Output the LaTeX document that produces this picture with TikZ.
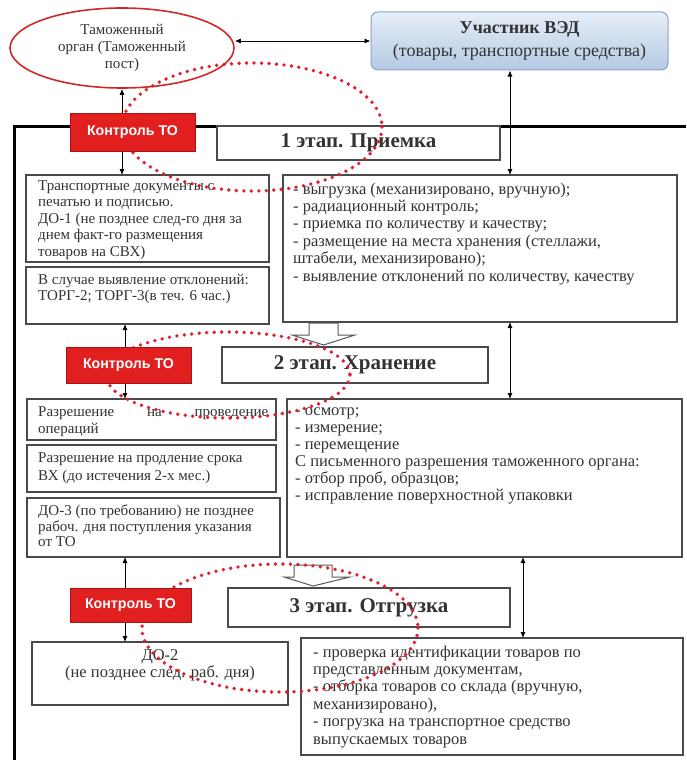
\documentclass[tikz,border=0pt]{standalone}
\usepackage{fontspec}
\setmainfont{Liberation Serif}
\newfontfamily\ksans{Liberation Sans}
\usetikzlibrary{arrows.meta,shapes.geometric}
\definecolor{kred}{HTML}{E21F1F}
\definecolor{kdark}{HTML}{A51515}
\definecolor{dotred}{HTML}{E0202E}
\definecolor{edge}{HTML}{4A4A4A}
\definecolor{vedtop}{HTML}{E6EEF8}
\definecolor{vedbot}{HTML}{B5C9E3}
\definecolor{vededge}{HTML}{8AA2C4}
\definecolor{elred}{HTML}{D02828}
\definecolor{ink}{HTML}{333333}
\pgfdeclarelayer{front}
\pgfsetlayers{main,front}
\begin{document}
\begin{tikzpicture}[x=1pt,y=-1pt, >={Latex[length=6pt,width=5pt]},
  box/.style={draw=edge,line width=1.1pt,fill=white,inner sep=0pt,outer sep=0pt},
  stagebox/.style={box,text=ink,font=\fontsize{21}{23}\selectfont\bfseries},
  ctrl/.style={draw=kdark,line width=1pt,fill=kred,text=white,inner sep=0pt,outer sep=0pt,font=\ksans\bfseries\fontsize{14.2}{16}\selectfont},
  txt/.style={inner sep=0pt,anchor=north west,align=left,text=ink},
  link/.style={line width=0.9pt,black},
  dots/.style={dotred,line width=3.8pt,line cap=round,dash pattern=on 0pt off 7.5pt},
  blockarr/.style={draw=gray!70!black,line width=1pt,fill=white}
]
\useasboundingbox (0,0) rectangle (686,760);
\fill[white] (0,0) rectangle (686,760);

% control nodes on the front layer
\begin{pgfonlayer}{front}
\node[ctrl,minimum width=125,minimum height=38] (k1) at (132.5,132) {Контроль ТО};
\node[ctrl,minimum width=125,minimum height=36] (k2) at (128.5,365) {Контроль ТО};
\node[ctrl,minimum width=121,minimum height=34] (k3) at (130.5,605) {Контроль ТО};
\end{pgfonlayer}

% frame
\draw[line width=3pt] (686,126) -- (14,126) -- (14,760);

% top nodes
\node[draw=elred,line width=1.6pt,fill=white,ellipse,minimum width=224,minimum height=80,inner sep=0pt,align=center,text=ink,font=\fontsize{15}{17}\selectfont] (ell) at (122,48) {Таможенный\\орган (Таможенный\\пост)};
\node[draw=vededge,line width=1pt,rounded corners=7pt,top color=vedtop,bottom color=vedbot,minimum width=297,minimum height=58,inner sep=0pt,align=center,text=ink,font=\fontsize{18}{23}\selectfont] (ved) at (519.5,41) {\textbf{Участник ВЭД}\\(товары, транспортные средства)};

% stage labels
\node[stagebox,minimum width=283,minimum height=34] (s1) at (358.5,143) {1 этап. Приемка};
\node[stagebox,minimum width=266,minimum height=36] (s2) at (355,365) {2 этап. Хранение};
\node[stagebox,minimum width=282,minimum height=39] (s3) at (369,607.5) {3 этап. Отгрузка};

% boxes
\node[box,minimum width=243,minimum height=87] (a) at (147.5,218.5) {};
\node[box,minimum width=243,minimum height=57] (b) at (147.5,295.5) {};
\node[box,minimum width=394,minimum height=147] (r1) at (480,248.5) {};
\node[box,minimum width=249,minimum height=41] (c) at (151.5,419.5) {};
\node[box,minimum width=249,minimum height=47] (d) at (151.5,468.5) {};
\node[box,minimum width=253,minimum height=59] (e) at (153.5,527.5) {};
\node[box,minimum width=395,minimum height=158] (r2) at (484.5,478) {};
\node[box,minimum width=256,minimum height=63] (f) at (160,673.5) {};
\node[box,minimum width=382,minimum height=117] (r3) at (492,696.5) {};

% texts
\node[txt,font=\fontsize{15}{16.5}\selectfont] (ta) at ([shift={(12,5)}]a.north west) {Транспортные документы с\\печатью и подписью.\\ДО-1 (не позднее след-го дня за\\днем факт-го размещения\\товаров на СВХ)};
\node[txt,font=\fontsize{15}{16}\selectfont] (tb) at ([shift={(12,7)}]b.north west) {В случае выявление отклонений:\\ТОРГ-2; ТОРГ-3(в теч. 6 час.)};
\node[txt,font=\fontsize{16.5}{17.4}\selectfont] (tr1) at ([shift={(10,7.5)}]r1.north west) {- выгрузка (механизировано, вручную);\\- радиационный контроль;\\- приемка по количеству и качеству;\\- размещение на места хранения (стеллажи,\\штабели, механизировано);\\- выявление отклонений по количеству, качеству};
\node[txt,font=\fontsize{15}{17}\selectfont] (tc) at ([shift={(11,7)}]c.north west) {\makebox[230pt][s]{Разрешение на проведение}\\операций};
\node[txt,font=\fontsize{15}{18}\selectfont] (td) at ([shift={(11,7)}]d.north west) {Разрешение на продление срока\\ВХ (до истечения 2-х мес.)};
\node[txt,font=\fontsize{15}{15.5}\selectfont] (te) at ([shift={(11,7)}]e.north west) {ДО-3 (по требованию) не позднее\\рабоч. дня поступления указания\\от ТО};
\node[txt,font=\fontsize{16.5}{17}\selectfont] (tr2) at ([shift={(8,8.5)}]r2.north west) {- осмотр;\\- измерение;\\- перемещение\\С письменного разрешения таможенного органа:\\- отбор проб, образцов;\\- исправление поверхностной упаковки};
\node[inner sep=0pt,anchor=north,align=center,text=ink,font=\fontsize{16.5}{16.5}\selectfont] (tf) at (160,649.5) {ДО-2\\(не позднее след. раб. дня)};
\node[txt,font=\fontsize{16.5}{17.4}\selectfont] (tr3) at ([shift={(12,7.5)}]r3.north west) {- проверка идентификации товаров по\\представленным документам,\\- отборка товаров со склада (вручную,\\механизировано),\\- погрузка на транспортное средство\\выпускаемых товаров};

% block arrows between stages
\draw[blockarr] (309,323) -- (338,323) -- (338,335) -- (355,335) -- (323.5,345) -- (292,335) -- (309,335) -- cycle;
\draw[blockarr] (294,565) -- (332,565) -- (332,577) -- (350,577) -- (313,586) -- (284,577) -- (294,577) -- cycle;

% connectors
\coordinate (xr) at (510,0);
\coordinate (xr3) at (523,0);
\coordinate (xk) at (125,0);
\draw[link,<->] (ell.east |- ved.west) -- (ved.west);
\draw[link,<->] (ved.south -| xr) -- (r1.north -| xr);
\draw[link,->] (k1.north -| ell.south) -- (ell.south);
\draw[link,->] (k1.south -| ell.south) -- (a.north -| ell.south);
\draw[link,->] (k2.north -| xk) -- (b.south -| xk);
\draw[link,->] (k2.south -| xk) -- (c.north -| xk);
\draw[link,<->] (r1.south -| xr) -- (r2.north -| xr);
\draw[link,->] (k3.north -| xk) -- (e.south -| xk);
\draw[link,->] (k3.south -| xk) -- (f.north -| xk);
\draw[link,<->] (r2.south -| xr3) -- (r3.north -| xr3);

% red dotted loops
\draw[dots] (252,127) ellipse [x radius=130, y radius=64];
\draw[dots] (228,375) ellipse [x radius=122, y radius=43];
\draw[dots] (280,628) ellipse [x radius=138, y radius=64];
\end{tikzpicture}
\end{document}
